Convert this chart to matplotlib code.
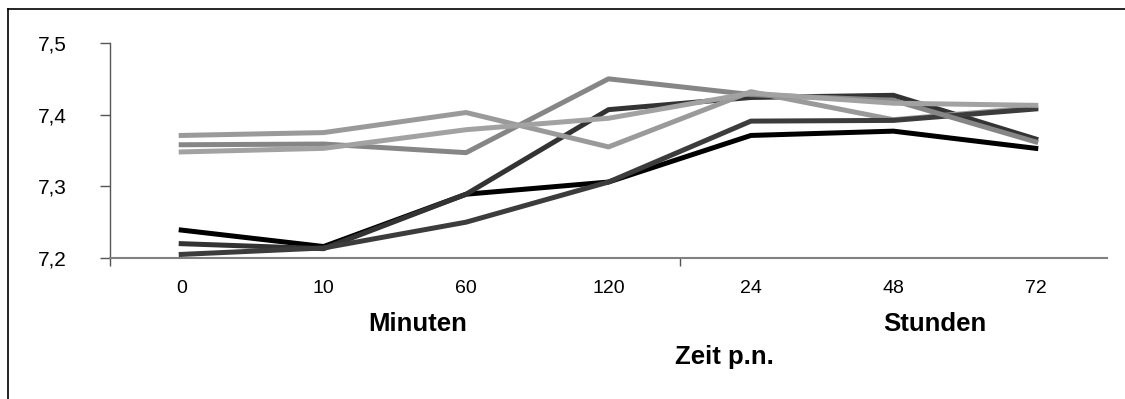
import matplotlib
matplotlib.use("Agg")
import matplotlib.pyplot as plt
from matplotlib.lines import Line2D
from matplotlib.ticker import FixedLocator, FuncFormatter

plt.rcParams['font.family'] = ['Liberation Sans', 'DejaVu Sans']

# Data
# --------------
zeit = ['0', '10', '60', '120', '24', '48', '72']
serie_a = [7.239, 7.216, 7.289, 7.306, 7.371, 7.377, 7.353]
serie_b = [7.220, 7.213, 7.289, 7.407, 7.424, 7.427, 7.366]
serie_c = [7.205, 7.214, 7.250, 7.306, 7.391, 7.392, 7.408]
serie_d = [7.358, 7.359, 7.347, 7.450, 7.428, 7.420, 7.362]
serie_e = [7.348, 7.353, 7.379, 7.395, 7.430, 7.416, 7.413]
serie_f = [7.371, 7.375, 7.403, 7.355, 7.432, 7.393, 7.410]
y_ticks = [7.2, 7.3, 7.4, 7.5]

# Figure
# --------------
fig = plt.figure(figsize=(11.25, 3.99), dpi=100)
ax = fig.add_axes([110/1125, 1 - 258/399, (1107-110)/1125, (258-43)/399])

x = range(len(zeit))
lw = 3.6
ax.plot(x, serie_a, color='#000000', lw=lw, zorder=3)
ax.plot(x, serie_b, color='#333333', lw=lw, zorder=3)
ax.plot(x, serie_f, color='#9a9a9a', lw=lw, zorder=4)
ax.plot(x, serie_c, color='#3c3c3c', lw=lw, zorder=5)
ax.plot(x, serie_d, color='#868686', lw=lw, zorder=6)
ax.plot(x, serie_e, color='#a2a2a2', lw=lw, zorder=6)

ax.set_xlim(-0.5, len(zeit) - 0.5)
ax.set_ylim(7.2, 7.5)

# Axes styling
for s in ['top', 'right']:
    ax.spines[s].set_visible(False)
ax.spines['left'].set_color('#555555')
ax.spines['bottom'].set_color('#808080')
ax.spines['left'].set_linewidth(1.0)
ax.spines['bottom'].set_linewidth(1.5)

ax.yaxis.set_major_locator(FixedLocator(y_ticks))
ax.yaxis.set_major_formatter(FuncFormatter(lambda v, p: ('%.1f' % v).replace('.', ',')))
ax.tick_params(axis='y', direction='out', length=7, width=1, color='#555555',
               pad=24, labelsize=15)

# category labels as minor ticks, separator ticks as major ticks
ax.xaxis.set_major_locator(FixedLocator([-0.5, 3.5]))
ax.xaxis.set_major_formatter(FuncFormatter(lambda v, p: ''))
ax.xaxis.set_minor_locator(FixedLocator(list(x)))
ax.set_xticklabels(zeit, minor=True)
ax.tick_params(axis='x', which='major', direction='out', length=6, width=1, color='#555555')
ax.tick_params(axis='x', which='minor', length=0, pad=16, labelsize=14)

# Group labels
fig.text(418/1125, 1 - 324/399, 'Minuten', ha='center', va='center', fontsize=18.5, fontweight='bold')
fig.text(935/1125, 1 - 324/399, 'Stunden', ha='center', va='center', fontsize=18.5, fontweight='bold')
fig.text(724/1125, 1 - 357/399, 'Zeit p.n.', ha='center', va='center', fontsize=18.5, fontweight='bold')

# Frame (top and left edges only)
fig.add_artist(Line2D([8/1125, 1], [1 - 9/399, 1 - 9/399], color='black', lw=1.2, transform=fig.transFigure))
fig.add_artist(Line2D([8/1125, 8/1125], [0, 1 - 9/399], color='black', lw=1.2, transform=fig.transFigure))

fig.savefig('out.png', dpi=100, facecolor='white')
